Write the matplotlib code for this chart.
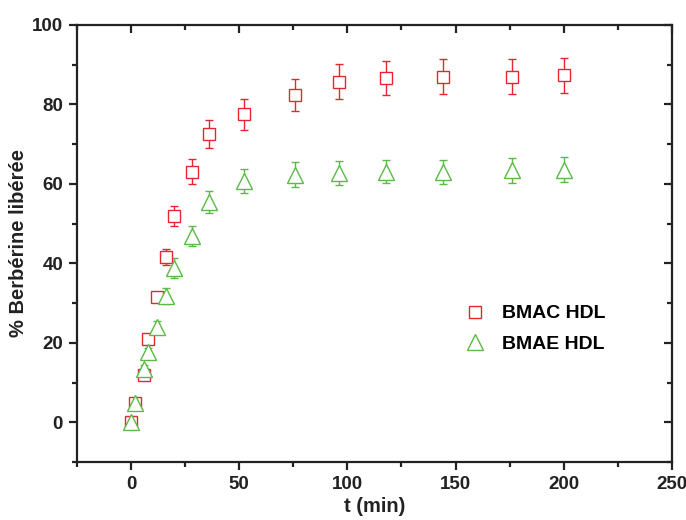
import numpy as np
import matplotlib
matplotlib.use("Agg")
import matplotlib.pyplot as plt
from matplotlib.ticker import MultipleLocator
from matplotlib import lines

plt.rcParams['font.family'] = ['Liberation Sans', 'DejaVu Sans']
plt.rcParams['font.weight'] = 'bold'

# temps (min)
t = [0, 2, 6, 8, 12, 16, 20, 28, 36, 52, 76, 96, 118, 144, 176, 200]

# BMAC HDL
bmac = [0, 4.8, 12, 21, 31.5, 41.5, 52, 63.1, 72.5, 77.5, 82.4, 85.7, 86.7, 87.0, 87.0, 87.3]
bmac_err = [0.5, 1, 1, 1, 1, 2, 2.5, 3.1, 3.5, 3.9, 4.0, 4.4, 4.3, 4.4, 4.4, 4.4]

# BMAE HDL
bmae = [0, 4.8, 13.4, 17.6, 24, 31.7, 38.8, 46.9, 55.5, 60.8, 62.3, 62.8, 63.1, 63.0, 63.4, 63.6]
bmae_err = [0.5, 1, 1, 1.2, 1.5, 2, 2.5, 2.5, 2.8, 3.0, 3.1, 3.0, 3.0, 3.0, 3.2, 3.2]

red = '#e8252e'
green = '#5bb946'

fig = plt.figure(figsize=(6.86, 5.2), dpi=100)
ax = fig.add_axes([0.1122, 0.1115, 0.8673, 0.8405])

ax.errorbar(t, bmac, yerr=bmac_err, fmt='s', ms=8.8, mfc='white', mec=red, mew=1.0,
            ecolor=red, elinewidth=1.0, capsize=3.2, capthick=1.0, label='BMAC HDL')
ax.errorbar(t, bmae, yerr=bmae_err, fmt='^', ms=11.5, mfc='white', mec=green, mew=1.0,
            ecolor=green, elinewidth=1.0, capsize=3.2, capthick=1.0, label='BMAE HDL')

ax.set_xlim(-25, 250)
ax.set_ylim(-10, 100)
ax.xaxis.set_major_locator(MultipleLocator(50))
ax.xaxis.set_minor_locator(MultipleLocator(25))
ax.yaxis.set_major_locator(MultipleLocator(20))
ax.yaxis.set_minor_locator(MultipleLocator(10))

for s in ax.spines.values():
    s.set_linewidth(1.6)
    s.set_color('#222222')

ax.tick_params(which='both', width=1.6, labelsize=13.5, colors='#222222',
               top=True, right=True, pad=4)
ax.tick_params(which='major', length=6)
ax.tick_params(which='minor', length=3.5)

# ticks en bas/à gauche vers l'extérieur, ticks miroirs (haut/droite) vers l'intérieur
for tk in ax.yaxis.get_major_ticks() + ax.yaxis.get_minor_ticks():
    tk.tick1line.set_marker(lines.TICKLEFT)
    tk.tick2line.set_marker(lines.TICKLEFT)
for tk in ax.xaxis.get_major_ticks() + ax.xaxis.get_minor_ticks():
    tk.tick1line.set_marker(lines.TICKDOWN)
    tk.tick2line.set_marker(lines.TICKDOWN)

ax.set_xlabel('t (min)', fontsize=14.5, fontweight='bold', color='#222222', labelpad=3)
ax.set_ylabel('% Berbérine libérée', fontsize=14.5, fontweight='bold', color='#222222', labelpad=3)

h, l = ax.get_legend_handles_labels()
h = [x[0] for x in h]
ax.legend(h, l, loc='center left', bbox_to_anchor=(0.62, 0.305), frameon=False,
          handlelength=1.2, handletextpad=0.8, labelspacing=0.65,
          prop={'weight': 'bold', 'size': 14})

fig.savefig('out.png', dpi=100)
